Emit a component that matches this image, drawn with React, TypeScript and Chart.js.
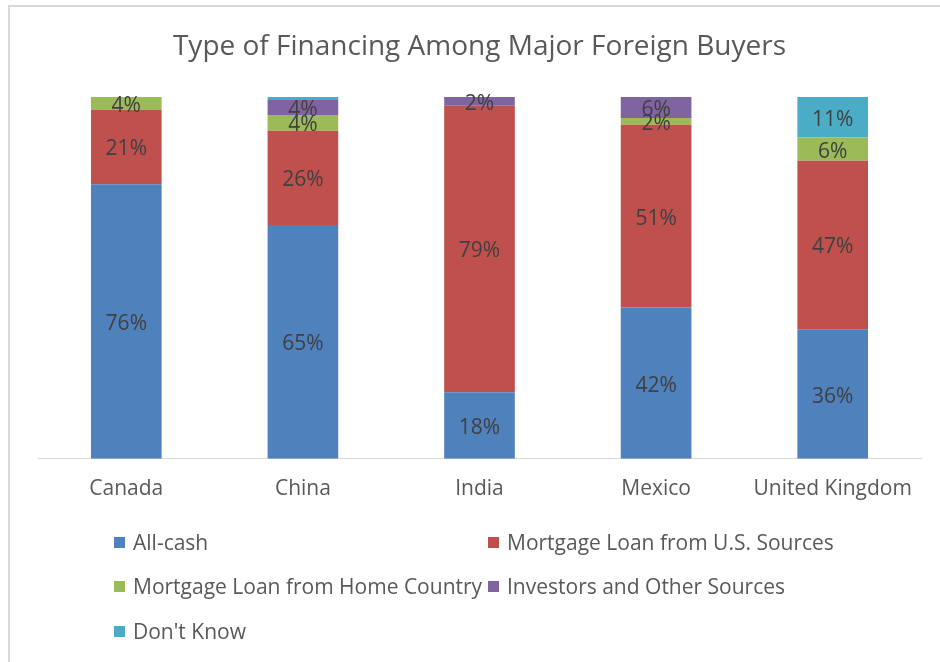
import React, { useEffect, useRef } from "react";
import { Chart, registerables } from "chart.js";

Chart.register(...registerables);

const categories = ["Canada", "China", "India", "Mexico", "United Kingdom"];
const seriesNames = [
  "All-cash",
  "Mortgage Loan from U.S. Sources",
  "Mortgage Loan from Home Country",
  "Investors and Other Sources",
  "Don't Know",
];
const allCash = [75.9, 64.6, 18.4, 41.8, 35.8];
const usMortgage = [20.6, 26.1, 79.2, 50.5, 46.6];
const homeMortgage = [3.5, 4.3, 0, 1.9, 6.4];
const investors = [0, 4.2, 2.4, 5.8, 0];
const dontKnow = [0, 0.8, 0, 0, 11.2];
const colors = ["#4F81BD", "#C0504D", "#9BBB59", "#8064A2", "#4BACC6"];
const titleText = "Type of Financing Among Major Foreign Buyers";

const FONT = "'Open Sans', Lato, sans-serif";

const labelPlugin = {
  id: "segLabels",
  afterDatasetsDraw(chart: any) {
    const ctx = chart.ctx;
    ctx.save();
    ctx.font = `21px ${FONT}`;
    ctx.fillStyle = "#404040";
    ctx.textAlign = "center";
    ctx.textBaseline = "middle";
    chart.data.datasets.forEach((ds: any, di: number) => {
      const meta = chart.getDatasetMeta(di);
      meta.data.forEach((el: any, i: number) => {
        const v = ds.data[i];
        if (v < 1.5) return;
        const y = (el.y + el.base) / 2;
        ctx.fillText(`${Math.round(v)}%`, el.x, y + 2.5);
      });
    });
    ctx.restore();
  },
};

export default function App() {
  const ref = useRef<HTMLCanvasElement>(null);
  useEffect(() => {
    if (!ref.current) return;
    const seriesData = [allCash, usMortgage, homeMortgage, investors, dontKnow];
    const chart = new Chart(ref.current, {
      type: "bar",
      data: {
        labels: categories,
        datasets: seriesNames.map((name, i) => ({
          label: name,
          data: seriesData[i],
          backgroundColor: colors[i],
          borderWidth: 0,
          barPercentage: 0.4,
          categoryPercentage: 1,
        })),
      },
      options: {
        responsive: false,
        animation: false,
        layout: { padding: { left: 38, right: 19, top: 0, bottom: 142 } },
        plugins: {
          legend: { display: false },
          tooltip: { enabled: false },
          title: {
            display: true,
            text: titleText,
            color: "#595959",
            font: { family: FONT, size: 28, weight: "normal" },
            padding: { top: 30, bottom: 33.4 },
          },
        },
        scales: {
          x: {
            stacked: true,
            grid: { display: false, drawTicks: false },
            border: { display: true, color: "#d9d9d9", width: 1 },
            ticks: {
              color: "#595959",
              font: { family: FONT, size: 21 },
              padding: 18,
            },
          },
          y: {
            stacked: true,
            display: false,
            min: 0,
            max: 100,
          },
        },
      },
      plugins: [labelPlugin],
    });
    return () => chart.destroy();
  }, []);

  const legendPos = [
    { left: 114, top: 542 },
    { left: 488, top: 542 },
    { left: 114, top: 586 },
    { left: 488, top: 586 },
    { left: 114, top: 631 },
  ];

  return (
    <div
      style={{
        position: "absolute",
        left: 0,
        top: 0,
        width: 940,
        height: 662,
        overflow: "hidden",
        background: "#fff",
      }}
    >
      <div
        style={{
          position: "absolute",
          left: 8,
          top: 5,
          width: 960,
          height: 700,
          borderLeft: "2px solid #d9d9d9",
          borderTop: "2px solid #d9d9d9",
        }}
      />
      <canvas
        ref={ref}
        width={940}
        height={662}
        style={{ position: "absolute", left: 0, top: 0 }}
      />
      {seriesNames.map((name, i) => (
        <div
          key={name}
          style={{
            position: "absolute",
            left: legendPos[i].left,
            top: legendPos[i].top - 12,
            height: 24,
            display: "flex",
            alignItems: "center",
            fontFamily: FONT,
            fontSize: 21,
            color: "#595959",
            whiteSpace: "nowrap",
          }}
        >
          <span
            style={{
              display: "inline-block",
              width: 11,
              height: 11,
              background: colors[i],
              marginRight: 8,
            }}
          />
          <span>{name}</span>
        </div>
      ))}
    </div>
  );
}
